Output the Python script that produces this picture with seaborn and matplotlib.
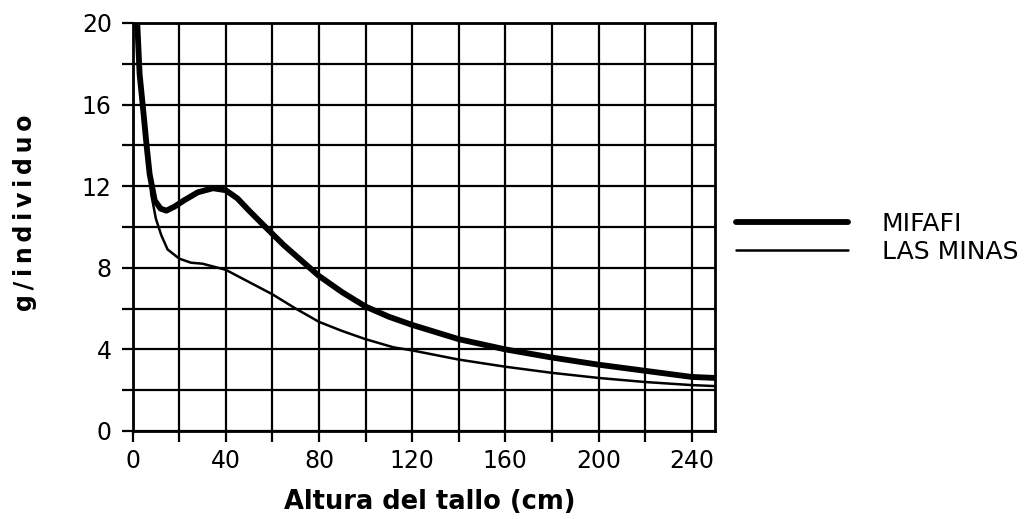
import numpy as np
import pandas as pd
import matplotlib
matplotlib.use("Agg")
import matplotlib.pyplot as plt
from matplotlib.ticker import MultipleLocator
import seaborn as sns

# Data
mifafi_x = [2, 3, 4.4, 6, 7.3, 9.5, 12, 14.5, 18, 22, 28, 34.5, 40, 45, 50, 57, 65, 72, 80, 90, 100, 110, 120, 140, 160, 180, 200, 220, 240, 250]
mifafi_y = [20, 17.5, 15.9, 14, 12.6, 11.3, 10.9, 10.8, 11.0, 11.3, 11.7, 11.9, 11.8, 11.4, 10.8, 10.0, 9.1, 8.4, 7.6, 6.8, 6.1, 5.6, 5.2, 4.5, 4.0, 3.6, 3.25, 2.95, 2.65, 2.6]
minas_x = [2, 3, 4.4, 6, 7.3, 8, 10, 12.3, 15, 20, 25, 30, 40, 50, 60, 70, 80, 90, 100, 112, 120, 140, 160, 180, 200, 220, 240, 250]
minas_y = [20, 17.5, 15.9, 14, 12.6, 11.6, 10.4, 9.6, 8.9, 8.45, 8.25, 8.2, 7.9, 7.3, 6.7, 6.0, 5.35, 4.9, 4.5, 4.1, 3.95, 3.5, 3.15, 2.85, 2.6, 2.4, 2.25, 2.2]
series_names = ["MIFAFI", "LAS MINAS"]
x_ticks = [0, 40, 80, 120, 160, 200, 240]
y_ticks = [0, 4, 8, 12, 16, 20]

sns.set_theme(style="white")
plt.rcParams['font.family'] = ['DejaVu Sans']

df_m = pd.DataFrame({"x": mifafi_x, "y": mifafi_y, "serie": series_names[0]})
df_l = pd.DataFrame({"x": minas_x, "y": minas_y, "serie": series_names[1]})

fig = plt.figure(figsize=(10.28, 5.19), dpi=100)
ax = fig.add_axes([0.129, 0.1696, 0.5665, 0.7861])

sns.lineplot(data=df_l, x="x", y="y", ax=ax, color="black", linewidth=1.8, label=series_names[1], zorder=3)
sns.lineplot(data=df_m, x="x", y="y", ax=ax, color="black", linewidth=4.2, label=series_names[0], zorder=4)

ax.set_xlim(0, 250)
ax.set_ylim(0, 20)
ax.xaxis.set_minor_locator(MultipleLocator(20))
ax.yaxis.set_minor_locator(MultipleLocator(2))
ax.set_xticks(x_ticks)
ax.set_yticks(y_ticks)
ax.grid(True, which="both", color="black", linewidth=1.6)
ax.tick_params(which="both", direction="out", length=8, width=1.6, color="black",
               bottom=True, left=True, labelsize=17, labelcolor="black")
ax.tick_params(axis="x", pad=5)
ax.tick_params(axis="y", pad=7)
for s in ax.spines.values():
    s.set_color("black")
    s.set_linewidth(2.0)

ax.set_xlabel("Altura del tallo (cm)", fontsize=18.5, fontweight="bold", color="black")
ax.xaxis.set_label_coords(0.51, -0.143)
ylab = "\u2009".join("g/individuo")
ax.set_ylabel(ylab, fontsize=17, fontweight="heavy", color="black")
ax.yaxis.set_label_coords(-0.165, 0.534)

handles, labels = ax.get_legend_handles_labels()
order = [labels.index(n) for n in series_names]
leg = ax.legend([handles[i] for i in order], [labels[i] for i in order],
                loc="upper left", bbox_to_anchor=(1.014, 0.568), frameon=False, borderpad=0,
                fontsize=18, handlelength=4.5, handletextpad=1.35, labelspacing=0.18)
for t in leg.get_texts():
    t.set_color("black")

fig.savefig("out.png", dpi=100, facecolor="white")
